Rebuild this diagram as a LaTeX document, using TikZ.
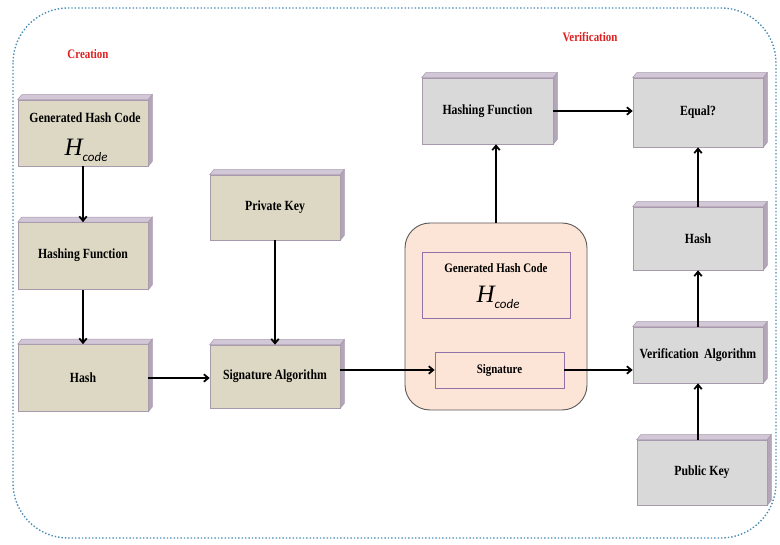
\documentclass[tikz,border=0pt]{standalone}
\usepackage{fontspec}
\setmainfont{Liberation Serif}[FakeStretch=0.84]
\newfontfamily\carl{Carlito}
\newfontfamily\hser{Liberation Serif}
\usetikzlibrary{arrows.meta,calc}
\definecolor{tanfill}{HTML}{DDD8C4}
\definecolor{greyfill}{HTML}{D9D9D9}
\definecolor{beveltop}{HTML}{D2C7D6}
\definecolor{bevelside}{HTML}{B3A6B8}
\definecolor{edge}{HTML}{A899AC}
\definecolor{peach}{HTML}{FCE4D6}
\definecolor{lblred}{HTML}{E02020}
\definecolor{dotblue}{HTML}{4A8DB5}
\definecolor{innerpurple}{HTML}{8E72A8}
\tikzset{
  x=1pt,y=-1pt,
  lbl/.style={font=\fontsize{14}{16}\selectfont\bfseries, text=black, align=center},
  boxc/.style={lbl, fill=tanfill, draw=edge, line width=0.6pt, inner sep=0pt},
  boxv/.style={lbl, fill=greyfill, draw=edge, line width=0.6pt, inner sep=0pt},
  arr/.style={-{Straight Barb[length=4.5pt,width=7.5pt]}, line width=1.75pt, black},
  sect/.style={font=\fontsize{13}{15}\selectfont\bfseries, text=lblred},
}
\newcommand\bevel[1]{%
  \fill[beveltop, draw=edge, line width=0.5pt] (#1.north west) -- ++(4pt,5pt) -- ($(#1.north east)+(4pt,5pt)$) -- (#1.north east) -- cycle;
  \fill[bevelside, draw=edge, line width=0.5pt] (#1.north east) -- ++(4pt,5pt) -- ($(#1.south east)+(4pt,5pt)$) -- (#1.south east) -- cycle;
}
\newcommand\hcode{{\fontsize{25}{25}\hser\itshape H}\raisebox{-6pt}{\fontsize{13}{13}\carl\itshape code}}
\begin{document}
\begin{tikzpicture}
\useasboundingbox (0,0) rectangle (780,545);
\fill[white] (0,0) rectangle (780,545);
\draw[dotblue, line width=1.4pt, dotted, rounded corners=55pt] (13,8) rectangle (776,538);

\node[sect] (creation) at (88,54) {Creation};
\node[sect] (verif) at (590,37) {Verification};

% creation column
\node[boxc, minimum width=130pt, minimum height=66pt] (cghc) at (83,133) {};
\bevel{cghc}
\node[lbl] (cghct) at (85,118) {Generated Hash Code};
\node[inner sep=0pt] (cghch) at (86,150) {\hcode};

\node[boxc, minimum width=130pt, minimum height=67pt] (chf) at (83,256) {\raisebox{4pt}{Hashing Function}};
\bevel{chf}
\node[boxc, minimum width=130pt, minimum height=67pt] (chash) at (83,378) {Hash};
\bevel{chash}

\node[boxc, minimum width=130pt, minimum height=65pt] (pk) at (275,207.5) {Private Key};
\bevel{pk}
\node[boxc, minimum width=130pt, minimum height=63pt] (sa) at (275,376.5) {Signature Algorithm};
\bevel{sa}

% middle bundle
\node[draw=black!65, line width=0.9pt, fill=peach, rounded corners=25pt, minimum width=182pt, minimum height=187pt, inner sep=0pt] (mid) at (496,316.5) {};
\node[draw=innerpurple, line width=0.8pt, fill=peach, minimum width=148pt, minimum height=66pt, inner sep=0pt] (mghc) at (496,285) {};
\node[lbl, font=\fontsize{13}{15}\selectfont\bfseries] (mghct) at (496,268) {Generated Hash Code};
\node[inner sep=0pt] (mghch) at (498,297) {\hcode};
\node[lbl, font=\fontsize{13}{15}\selectfont\bfseries, draw=innerpurple, line width=0.8pt, fill=peach, minimum width=129pt, minimum height=36pt, inner sep=0pt] (sig) at (499.5,370) {\raisebox{3pt}{Signature}};

% verification column
\node[boxv, minimum width=131pt, minimum height=66pt] (vhf) at (487.5,111) {\raisebox{3pt}{Hashing Function}};
\bevel{vhf}
\node[boxv, minimum width=130pt, minimum height=69pt] (eq) at (698,112.5) {Equal?};
\bevel{eq}
\node[boxv, minimum width=130pt, minimum height=63pt] (vhash) at (698,238.5) {Hash};
\bevel{vhash}
\node[boxv, minimum width=130pt, minimum height=56pt] (va) at (698,355) {Verification\, Algorithm};
\bevel{va}
\node[boxv, minimum width=130pt, minimum height=65pt] (pub) at (702,472.5) {Public Key};
\bevel{pub}

% connectors
\draw[arr] (cghc.south) -- (chf.north);
\draw[arr] (chf.south) -- (chash.north);
\draw[arr] (chash.east) -- (chash.east -| sa.west);
\draw[arr] (pk.south) -- (sa.north);
\draw[arr] (sa.east |- sig.west) -- (sig.west);
\draw[arr] (mid.north) -- (mid.north |- vhf.south);
\draw[arr] (vhf.east) -- (vhf.east -| eq.west);
\draw[arr] (sig.east) -- (sig.east -| va.west);
\draw[arr] (va.south |- pub.north) -- (va.south);
\draw[arr] (va.north) -- (vhash.south);
\draw[arr] (vhash.north) -- (eq.south);
\end{tikzpicture}
\end{document}
